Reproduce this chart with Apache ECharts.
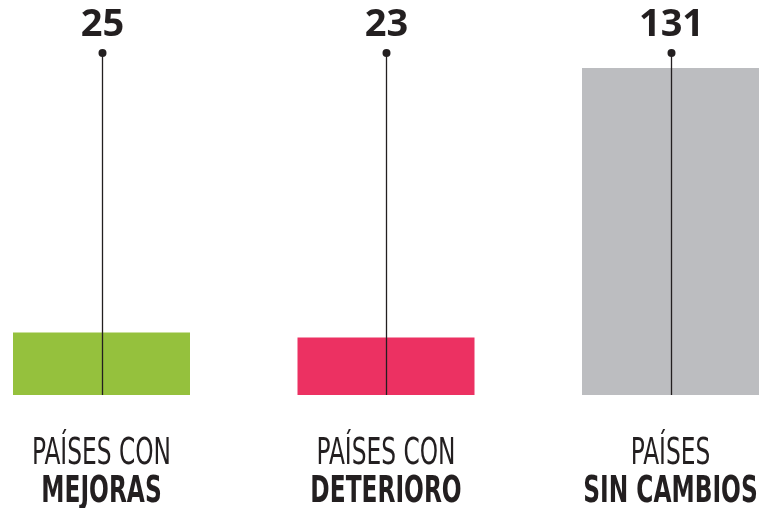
<!DOCTYPE html>
<html>
<head>
<meta charset="utf-8">
<script src="https://cdn.jsdelivr.net/npm/echarts@6/dist/echarts.min.js"></script>
<style>html,body{margin:0;padding:0;background:#fff}#c{width:761px;height:508px}</style>
</head>
<body>
<div id="c"></div>
<script>
var categories = ['Mejoras', 'Deterioro', 'Sin cambios'];
var labelLine1 = ['PAÍSES CON', 'PAÍSES CON', 'PAÍSES'];
var labelLine2 = ['MEJORAS', 'DETERIORO', 'SIN CAMBIOS'];
var values = [25, 23, 131];
var barColors = ['#95c13d', '#ec3162', '#bcbdc0'];
var yMax = 137;

var ink = '#231f20';
var chart = echarts.init(document.getElementById('c'));

var option = {
  animation: false,
  grid: { left: 101.5, right: 90.5, top: 53, bottom: 113 },
  xAxis: {
    type: 'category', data: categories, boundaryGap: false,
    axisLine: { show: false }, axisTick: { show: false }, axisLabel: { show: false }
  },
  yAxis: {
    type: 'value', min: 0, max: yMax,
    axisLine: { show: false }, axisTick: { show: false }, axisLabel: { show: false },
    splitLine: { show: false }
  },
  series: [
    {
      type: 'bar', barWidth: 177, z: 2,
      data: values.map(function (v, i) { return { value: v, itemStyle: { color: barColors[i] } }; })
    },
    {
      type: 'custom', z: 5,
      data: values.map(function (v, i) { return [i, v]; }),
      renderItem: function (params, api) {
        var idx = api.value(0);
        var p0 = api.coord([idx, 0]);
        var p1 = api.coord([idx, yMax]);
        var x = Math.round(p0[0]) + 0.5;
        return {
          type: 'group',
          children: [
            { type: 'line', shape: { x1: x, y1: p1[1], x2: x, y2: p0[1] }, style: { stroke: ink, lineWidth: 1.3 } },
            { type: 'circle', shape: { cx: x, cy: p1[1], r: 4 }, style: { fill: ink } },
            { type: 'text', x: x, y: p1[1] - 28, style: { text: String(api.value(1)), fill: ink, font: 'bold 38px "Open Sans", sans-serif', align: 'center', verticalAlign: 'middle' } }
          ]
        };
      }
    }
  ]
};
chart.setOption(option);

var graphics = [];
var condensed = '"Liberation Sans Narrow", "DejaVu Sans Condensed", sans-serif';
categories.forEach(function (c, i) {
  var px = chart.convertToPixel({ xAxisIndex: 0 }, c);
  graphics.push({ type: 'text', x: px, y: 454, scaleX: 0.70, style: { text: labelLine1[i], fill: ink, font: '37px ' + condensed, align: 'center', verticalAlign: 'middle' } });
  graphics.push({ type: 'text', x: px, y: 492, scaleX: 0.70, style: { text: labelLine2[i], fill: ink, font: 'bold 37px ' + condensed, align: 'center', verticalAlign: 'middle' } });
});
chart.setOption({ graphic: graphics });
</script>
</body>
</html>
